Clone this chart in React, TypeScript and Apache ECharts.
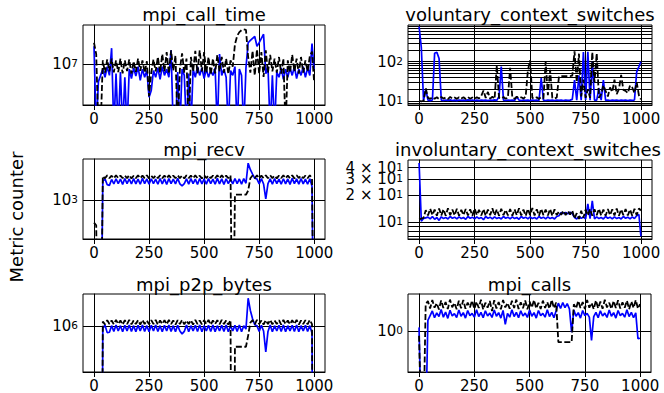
import React, { useEffect, useRef } from "react";
import * as echarts from "echarts";

const XS = [0,10,20,30,40,50,60,70,80,90,100,110,120,130,140,150,160,170,180,190,200,210,220,230,240,250,260,270,280,290,300,310,320,330,340,350,360,370,380,390,400,410,420,430,440,450,460,470,480,490,500,510,520,530,540,550,560,570,580,590,600,610,620,630,640,650,660,670,680,690,700,710,720,730,740,750,760,770,780,790,800,810,820,830,840,850,860,870,880,890,900,910,920,930,940,950,960,970,980,990,999];
const X_TICKS = [0, 250, 500, 750, 1000];

// mpi_call_time
const CALL_TIME_BLUE = [2.3e7,5e5,4.5e6,6e6,8e6,5.5e6,9e6,6e6,2.1e7,5e5,
  6.5e6,5e5,7e6,5e5,5.5e6,5e5,8e6,5.2e6,8.5e6,5.8e6,
  9e6,4.8e6,8e6,5.5e6,7.5e6,2.2e6,3e6,7.5e6,5.5e6,8.5e6,
  5e6,9e6,6e6,8e6,5.5e6,1.9e7,5e5,5e5,7e6,5e5,
  8e6,6e6,5e5,6.5e6,5e5,8e6,5.5e6,9e6,6e6,8.5e6,
  5.2e6,8e6,5.5e6,7.5e6,6e6,8.5e6,5e5,1.6e7,6e6,8e6,
  5.5e6,5e5,7.5e6,6e6,9e6,5e5,8e6,6e6,5e5,8.5e6,
  2.7e7,3.0e7,3.3e7,3.6e7,2.3e7,2.7e7,3.3e7,4.0e7,6.5e6,9e6,
  5e5,6e6,5e5,7e6,5.5e6,8.5e6,5e6,8e6,5.5e6,8.5e6,
  6e6,9e6,5.2e6,8e6,6e6,9e6,5.5e6,8.5e6,6e6,2.6e7,8e6];
const CALL_TIME_BLACK = [2.7e7,1.6e7,5e5,5e5,1.2e7,6.8e6,1.25e7,7.2e6,1.3e7,6.9e6,
  1.2e7,7.0e6,1.3e7,6.6e6,1.2e7,7.3e6,1.25e7,6.5e6,1.15e7,7.1e6,
  1.3e7,7.4e6,1.2e7,6.8e6,1.15e7,2.3e6,6.9e6,1.25e7,7.2e6,1.4e7,
  6.8e6,1.6e7,7.2e6,1.75e7,6.5e6,1.9e7,7.5e6,1.5e7,5e5,8e6,
  1.65e7,6.8e6,1.3e7,5e5,1.4e7,7.2e6,1.85e7,6.6e6,1.9e7,7.2e6,
  1.75e7,6.8e6,1.4e7,6.2e6,1.3e7,6.6e6,1.55e7,7.2e6,1.4e7,6.8e6,
  1.3e7,6.4e6,1.2e7,9.0e6,2.5e7,3.7e7,4.4e7,4.8e7,5.0e7,4.9e7,
  1.4e7,6.8e6,1.85e7,6.0e6,2.0e7,6.5e6,1.75e7,5.6e6,1.9e7,6.8e6,
  1.55e7,7.2e6,1.3e7,6.8e6,1.4e7,6.5e6,1.3e7,5e5,1.2e7,6.8e6,
  1.55e7,7.2e6,1.3e7,6.5e6,1.4e7,6.8e6,1.2e7,7.2e6,1.45e7,1.8e7,4.8e6];

// voluntary_context_switches
const VOL_BLUE = [780,230,10.3,20,10.5,10.2,10.6,165,175,120,
  10.5,10.3,10.6,10.4,10.7,10.3,10.5,10.2,10.6,10.4,
  10.5,10.3,10.7,10.4,10.6,10.3,10.5,10.2,10.6,10.4,
  10.5,10.3,10.6,10.4,10.7,10.4,13,75,10.5,10.3,
  10.6,10.4,10.5,10.3,12.8,10.5,10.3,10.6,10.4,10.5,
  10.3,10.6,10.4,10.5,10.3,38,10.5,10.3,10.6,10.4,
  10.5,10.3,10.6,10.4,10.5,10.3,10.6,10.4,10.5,11,
  34,10.5,45,10.5,175,10.6,180,10.5,100,10.5,
  10.5,21,10.5,34,10.4,10.6,10.3,10.5,10.4,10.6,
  10.3,10.5,10.4,10.6,10.3,10.5,10.4,10.6,55,75,100];
const VOL_BLACK = [10,9.8,10,21,12,11.3,12.5,11.4,12.4,11.2,
  12.6,11.5,12.3,11.2,12.7,11.4,12.2,11.3,12.5,11.5,
  12.4,11.2,12.6,11.4,12.3,11.3,12.5,11.6,13.5,18.5,
  12,17,11.5,12.8,11.3,80,12,11.5,12.6,11.4,
  12.2,70,12,11.4,12.8,11.6,12.4,11.5,13,60,
  110,12,11.5,12.4,11.3,12.5,11.6,100,14,62,
  12,11.5,12.3,42,43,43,43,43,43,44,
  185,30,160,13,35,12,20,12,175,30,
  165,12,15,25,18,13,22,17,35,15,
  20,46,19,18,16,25,22,16,30,14,11];

// mpi_recv
const RECV_BLUE = [1,1,1,1,2050,2250,1800,1750,2200,1850,
  2260,1870,2230,1820,2280,1880,2240,1850,2270,1860,
  2230,1830,2290,1870,2240,1840,2260,1880,2220,1830,
  2280,1860,2250,1820,2270,1880,2230,1850,2290,1860,
  1720,1870,2250,1840,2270,1880,2230,1820,2280,1860,
  2240,1840,2270,1880,2220,1830,2290,1860,2250,1820,
  2260,1870,2230,1850,2280,1880,2240,1840,2270,1900,
  4100,3200,2700,2300,2240,1860,2270,1850,1040,1880,
  2250,1830,2280,1870,2230,1840,2260,1860,2240,1820,
  2290,1870,2250,1840,2270,1860,2230,1830,2260,1700,1];
const RECV_BLACK = [420,380,1,1,2500,2300,2570,2310,2540,2290,
  2580,2320,2550,2300,2560,2310,2590,2290,2540,2320,
  2570,2300,2550,2310,2580,2290,2540,2320,2560,2300,
  2590,2310,2550,2290,2570,2320,2540,2300,2580,2310,
  2560,2290,2590,2320,2550,2300,2570,2310,2540,2290,
  2580,2320,2560,2300,2550,2310,2590,2290,2570,2320,
  2540,2300,2580,1,1225,1225,1225,1225,1225,1225,
  1430,2300,2560,2310,2580,2290,2550,2320,2570,2300,
  2590,2310,2540,2290,2560,2320,2580,2300,2550,2310,
  2570,2290,2590,2320,2540,2300,2560,2310,2580,2290,1];

// involuntary_context_switches
const INVOL_BLUE = [45,10.3,11,11.2,11.4,10.9,11.6,10.8,11.3,10.5,
  11.5,11.0,11.3,10.9,11.6,11.1,11.4,10.9,11.5,11.0,
  11.3,10.8,11.6,11.1,11.4,10.9,11.5,11.0,11.3,10.7,
  11.6,11.1,11.4,10.9,11.5,11.0,11.3,10.9,11.6,11.1,
  11.4,10.9,11.5,11.0,11.3,10.8,11.6,11.1,11.4,10.9,
  11.5,11.0,11.3,10.9,11.6,11.1,11.4,10.9,11.5,11.0,
  11.3,10.9,11.6,11.8,12.8,12.5,12.8,12.4,12.9,12.5,
  11.3,10.9,11.6,11.1,11.4,10.9,16,11.0,17.2,10.9,
  11.5,11.0,11.3,10.9,11.6,11.1,11.4,10.9,11.5,11.0,
  11.3,10.9,11.6,11.1,11.4,10.9,11.5,11.0,11.8,12.2,7.0];
const INVOL_BLACK = [10.8,11,11.2,13.6,11.9,14.1,12.0,13.8,11.8,14.2,
  11.9,13.9,11.8,14.3,12.0,13.8,11.9,14.1,11.8,13.7,
  12.0,14.0,11.9,13.9,11.8,14.2,12.0,13.7,11.9,14.0,
  11.8,13.8,12.0,14.3,11.9,13.9,11.8,14.1,12.0,13.7,
  11.9,14.0,11.8,13.9,12.0,14.3,11.9,13.8,11.8,14.1,
  12.0,14.4,11.9,13.9,11.8,14.1,12.0,13.8,11.9,14.0,
  11.8,13.9,12.0,13.2,12.1,13.4,12.0,13.3,12.2,13.5,
  11.0,12.6,10.9,13.4,11.2,13.8,11.9,14.0,11.8,13.9,
  12.0,14.1,11.9,13.8,11.8,14.0,12.0,13.9,11.9,14.2,
  11.8,13.9,12.0,14.0,11.9,13.8,11.8,14.1,12.0,14.2,13.5];

// mpi_p2p_bytes
const P2P_BLUE = [1,1,1,1,9.5e5,1.03e6,8.3e5,8.4e5,1.02e6,8.6e5,
  1.04e6,8.7e5,1.02e6,8.5e5,1.03e6,8.7e5,1.04e6,8.6e5,1.02e6,8.5e5,
  1.03e6,8.7e5,1.04e6,8.6e5,1.02e6,8.5e5,1.03e6,8.7e5,1.04e6,8.6e5,
  1.02e6,8.5e5,1.03e6,8.7e5,1.04e6,8.6e5,1.02e6,8.5e5,1.03e6,8.7e5,
  8.0e5,8.6e5,1.04e6,8.5e5,1.02e6,8.7e5,1.03e6,8.6e5,1.04e6,8.5e5,
  1.02e6,8.7e5,1.03e6,8.6e5,1.04e6,8.5e5,1.02e6,8.7e5,1.03e6,8.6e5,
  1.04e6,8.5e5,1.02e6,8.7e5,1.03e6,8.6e5,1.04e6,8.5e5,1.02e6,9.2e5,
  2.3e6,1.6e6,1.25e6,1.05e6,1.02e6,8.6e5,1.03e6,8.7e5,4.7e5,8.6e5,
  1.04e6,8.5e5,1.02e6,8.7e5,1.03e6,8.6e5,1.04e6,8.5e5,1.02e6,8.7e5,
  1.03e6,8.6e5,1.04e6,8.5e5,1.02e6,8.7e5,1.03e6,8.6e5,1.02e6,8.2e5,1];
const P2P_BLACK = [1,1,1,1,1.15e6,1.06e6,1.2e6,1.07e6,1.19e6,1.06e6,
  1.21e6,1.07e6,1.19e6,1.05e6,1.2e6,1.07e6,1.21e6,1.06e6,1.19e6,1.07e6,
  1.2e6,1.05e6,1.21e6,1.07e6,1.19e6,1.06e6,1.2e6,1.07e6,1.21e6,1.05e6,
  1.19e6,1.07e6,1.2e6,1.06e6,1.21e6,1.07e6,1.19e6,1.05e6,1.2e6,1.07e6,
  1.21e6,1.06e6,1.19e6,1.07e6,1.2e6,1.05e6,1.21e6,1.07e6,1.19e6,1.06e6,
  1.2e6,1.07e6,1.21e6,1.05e6,1.19e6,1.07e6,1.2e6,1.06e6,1.21e6,1.07e6,
  1.19e6,1.05e6,1.2e6,1,5.46e5,5.46e5,5.46e5,5.46e5,5.46e5,5.46e5,
  7.6e5,1.12e6,1.2e6,1.06e6,1.21e6,1.07e6,1.19e6,1.05e6,1.2e6,1.07e6,
  1.21e6,1.06e6,1.19e6,1.07e6,1.2e6,1.05e6,1.21e6,1.07e6,1.19e6,1.06e6,
  1.2e6,1.07e6,1.21e6,1.05e6,1.19e6,1.07e6,1.2e6,1.06e6,1.21e6,1.07e6,1];

// mpi_calls
const CALLS_BLUE = [1.1,0.1,0.1,0.1,1.3,1.45,1.62,1.38,1.55,1.42,
  1.68,1.40,1.58,1.36,1.65,1.44,1.52,1.39,1.66,1.43,
  1.56,1.37,1.64,1.45,1.53,1.40,1.67,1.42,1.57,1.38,
  1.63,1.44,1.54,1.39,1.66,1.43,1.56,1.37,1.64,1.18,
  1.53,1.40,1.67,1.42,1.57,1.38,1.63,1.44,1.54,1.39,
  1.66,1.43,1.56,1.37,1.64,1.45,1.53,1.40,1.67,1.42,
  1.57,1.38,1.63,1.95,1.72,1.98,1.75,1.93,1.70,0.98,
  1.66,1.43,1.56,1.37,1.64,1.45,1.53,1.40,0.81,1.42,
  1.57,1.38,1.63,1.44,1.54,1.39,1.66,1.43,1.56,1.37,
  1.64,1.45,1.53,1.40,1.67,1.42,1.57,1.38,1.55,0.84,0.85];
const CALLS_BLACK = [0.9,0.1,0.1,1.9,2.05,1.72,2.1,1.75,1.95,1.68,
  2.08,1.74,2.0,1.70,2.12,1.77,1.96,1.69,2.06,1.73,
  2.1,1.71,1.98,1.76,2.07,1.70,2.02,1.74,2.11,1.68,
  1.97,1.75,2.05,1.62,2.09,1.72,2.0,1.69,2.1,1.76,
  1.96,1.71,2.06,1.74,2.12,1.70,1.99,1.73,2.08,1.69,
  2.03,1.75,2.1,1.72,1.97,1.70,2.07,1.74,2.0,1.71,
  2.11,1.73,1.98,0.776,0.776,0.776,0.776,0.776,0.776,0.776,
  1.9,1.72,2.06,1.74,2.0,1.70,2.1,1.75,1.96,1.69,
  2.08,1.73,2.02,1.71,2.11,1.76,1.97,1.70,2.05,1.74,
  2.09,1.72,1.99,1.75,2.07,1.69,2.03,1.74,2.1,1.71,1.9];

const FONT = "DejaVu Sans";

type Panel = {
  title: string;
  blue: number[];
  black: number[];
  yMin: number;
  yMax: number;
  ticks: number[];
  labels: number[];
  extraLabels?: number[];
  left: number;
  top: number;
  width: number;
  height: number;
  titleX: number;
  titleY: number;
};

const PANELS: Panel[] = [
  { title: "mpi_call_time", blue: CALL_TIME_BLUE, black: CALL_TIME_BLACK,
    yMin: 1.535e6, yMax: 6.11e7, ticks: [1e7], labels: [1e7],
    left: 83, top: 25, width: 242, height: 80, titleX: 204, titleY: 14.6 },
  { title: "voluntary_context_switches", blue: VOL_BLUE, black: VOL_BLACK,
    yMin: 7.9, yMax: 860, ticks: [8, 9, 10, 20, 30, 40, 50, 60, 70, 80, 90, 100, 200, 300, 400, 500, 600, 700, 800], labels: [10, 100],
    left: 408, top: 25, width: 244, height: 80, titleX: 530, titleY: 14.6 },
  { title: "mpi_recv", blue: RECV_BLUE, black: RECV_BLACK,
    yMin: 224, yMax: 4820, ticks: [1000], labels: [1000],
    left: 83, top: 159, width: 242, height: 80, titleX: 204, titleY: 149.6 },
  { title: "involuntary_context_switches", blue: INVOL_BLUE, black: INVOL_BLACK,
    yMin: 6.55, yMax: 48.6, ticks: [7, 8, 9, 10, 20, 30, 40], labels: [10, 20, 40], extraLabels: [30],
    left: 408, top: 160, width: 244, height: 79, titleX: 528, titleY: 149.6 },
  { title: "mpi_p2p_bytes", blue: P2P_BLUE, black: P2P_BLACK,
    yMin: 2.585e5, yMax: 2.606e6, ticks: [1e6], labels: [1e6],
    left: 83, top: 294, width: 242, height: 80, titleX: 204, titleY: 284.6 },
  { title: "mpi_calls", blue: CALLS_BLUE, black: CALLS_BLACK,
    yMin: 0.383, yMax: 2.42, ticks: [1], labels: [1],
    left: 408, top: 294, width: 243, height: 80, titleX: 529.5, titleY: 284.6 },
];

function fmtLog(val: number): string {
  const e = Math.floor(Math.log10(val) + 1e-9);
  const m = Math.round(val / Math.pow(10, e));
  if (m === 1) return "{b|10}{s|" + e + "}";
  return "{b|" + m + " \u00d7 10}{s|" + e + "}";
}

const RICH = {
  b: { fontSize: 15, fontFamily: FONT, color: "#000", lineHeight: 13 },
  s: { fontSize: 10.5, fontFamily: FONT, color: "#000", verticalAlign: "top", lineHeight: 9 },
};

export default function App() {
  const ref = useRef<HTMLDivElement>(null);
  useEffect(() => {
    if (!ref.current) return;
    const chart = echarts.init(ref.current, null, { renderer: "svg" });
    const grid: any[] = [];
    const xAxis: any[] = [];
    const yAxis: any[] = [];
    const extraY: any[] = [];
    const series: any[] = [];
    const graphic: any[] = [];
    PANELS.forEach((p, i) => {
      grid.push({ left: p.left, top: p.top, width: p.width, height: p.height, show: true, borderColor: "#000", borderWidth: 1, backgroundColor: "transparent" });
      xAxis.push({
        type: "value", gridIndex: i, min: -49.95, max: 1048.95,
        axisLine: { show: true, onZero: false, lineStyle: { color: "#000", width: 1 } },
        axisTick: { show: true, length: 5, customValues: X_TICKS, lineStyle: { color: "#000", width: 1 } },
        axisLabel: { customValues: X_TICKS, fontSize: 15, fontFamily: FONT, color: "#000", margin: 6, hideOverlap: false, formatter: (v: number) => String(v) },
        splitLine: { show: true, lineStyle: { color: "#000", width: 1 } },
      });
      yAxis.push({
        type: "log", logBase: 10, gridIndex: i, min: p.yMin, max: p.yMax,
        axisLine: { show: true, lineStyle: { color: "#000", width: 1 } },
        axisTick: { show: true, length: 4, customValues: p.ticks, lineStyle: { color: "#000", width: 1 } },
        axisLabel: {
          customValues: p.labels, margin: 5, hideOverlap: false, showMinLabel: true, showMaxLabel: true,
          formatter: (v: number) => fmtLog(v), rich: RICH,
        },
        splitLine: { show: true, lineStyle: { color: "#000", width: 1 } },
      });
      if (p.extraLabels) {
        extraY.push({
          type: "log", logBase: 10, gridIndex: i, min: p.yMin, max: p.yMax, position: "left", offset: 0,
          axisLine: { show: false }, axisTick: { show: false }, splitLine: { show: false },
          axisLabel: {
            customValues: p.extraLabels, margin: 5, hideOverlap: false, showMinLabel: true, showMaxLabel: true,
            formatter: (v: number) => fmtLog(v), rich: RICH,
          },
        });
      }
      series.push({
        type: "line", xAxisIndex: i, yAxisIndex: i, showSymbol: false, clip: true, z: 3,
        lineStyle: { color: "#0000ff", width: 1.7 },
        data: XS.map((x, k) => [x, p.blue[k]]),
      });
      series.push({
        type: "line", xAxisIndex: i, yAxisIndex: i, showSymbol: false, clip: true, z: 4,
        lineStyle: { color: "#000000", width: 1.8, type: [6, 2.5] },
        data: XS.map((x, k) => [x, p.black[k]]),
      });
      graphic.push({
        type: "text", x: p.titleX, y: p.titleY,
        style: { text: p.title, fontSize: 18, fontFamily: FONT, fill: "#000", align: "center", verticalAlign: "middle" },
      });
    });
    graphic.push({
      type: "text", x: 16.5, y: 217, rotation: Math.PI / 2,
      style: { text: "Metric counter", fontSize: 18, fontFamily: FONT, fill: "#000", align: "center", verticalAlign: "middle" },
    });
    chart.setOption({
      animation: false,
      backgroundColor: "#fff",
      grid, xAxis, yAxis: yAxis.concat(extraY), series, graphic,
    });
    return () => chart.dispose();
  }, []);
  return <div ref={ref} style={{ position: "absolute", left: 0, top: 0, width: 664, height: 393 }} />;
}
